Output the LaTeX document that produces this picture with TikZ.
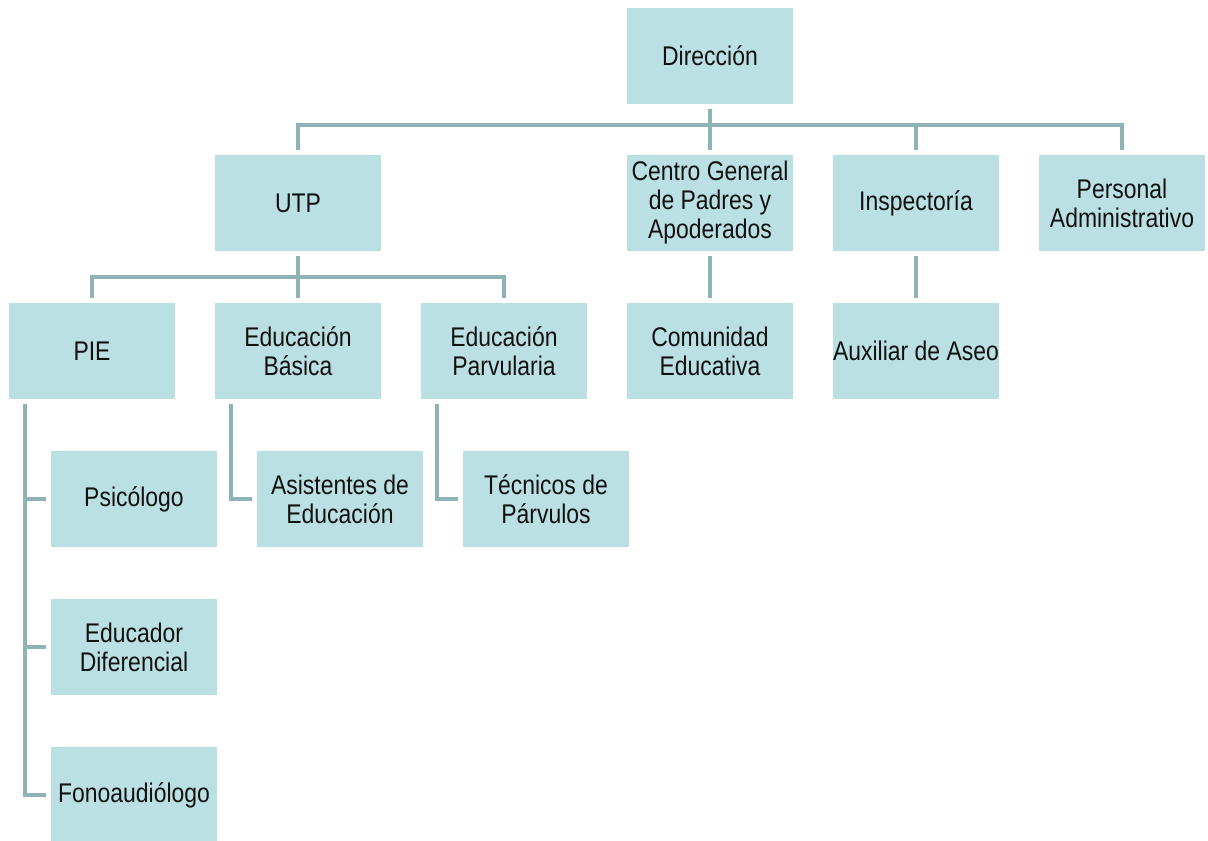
\documentclass[tikz,border=0pt]{standalone}
\usepackage{fontspec}
\setmainfont[FakeStretch=0.85]{Liberation Sans}
\definecolor{boxfill}{HTML}{BBE0E3}
\definecolor{linec}{HTML}{8DB3B6}
\definecolor{txt}{HTML}{111111}
\begin{document}
\begin{tikzpicture}[x=1pt,y=-1pt,
  ob/.style={rectangle,fill=boxfill,draw=none,minimum width=166pt,minimum height=96pt,
    align=center,text=txt,font=\fontsize{27}{29}\selectfont,inner sep=0pt},
  conn/.style={draw=linec,line width=3.5pt,line join=miter}]
\useasboundingbox (0,0) rectangle (1208,841);
\begin{scope}
\clip (0,0) rectangle (1208,841);
\node[ob] (dir) at (710,56) {Dirección};
\node[ob] (utp) at (298,203) {UTP};
\node[ob] (cgpa) at (710,203) {Centro General\\de Padres y\\Apoderados};
\node[ob] (insp) at (916,203) {Inspectoría};
\node[ob] (pers) at (1122,203) {Personal\\Administrativo};
\node[ob] (pie) at (92,351) {PIE};
\node[ob] (eb) at (298,351) {Educación\\Básica};
\node[ob] (ep) at (504,351) {Educación\\Parvularia};
\node[ob] (com) at (710,351) {Comunidad\\Educativa};
\node[ob] (aux) at (916,351) {Auxiliar de Aseo};
\node[ob] (psic) at (134,499) {Psicólogo};
\node[ob] (asis) at (340,499) {Asistentes de\\Educación};
\node[ob] (tec) at (546,499) {Técnicos de\\Párvulos};
\node[ob] (edif) at (134,647) {Educador\\Diferencial};
\node[ob] (fono) at (134,795) {Fonoaudiólogo};
\end{scope}
% level 1 bus
\coordinate (b1) at (710,125);
\draw[conn] ([yshift=-5pt]dir.south) -- (b1);
\draw[conn] ([yshift=5pt]utp.north) |- (b1) -| ([yshift=5pt]pers.north);
\draw[conn] ([yshift=5pt]cgpa.north) -- (cgpa.north |- b1);
\draw[conn] ([yshift=5pt]insp.north) -- (insp.north |- b1);
% UTP bus
\coordinate (b2) at (298,277);
\draw[conn] ([yshift=-5pt]utp.south) -- (b2);
\draw[conn] ([yshift=5pt]pie.north) |- (b2) -| ([yshift=5pt]ep.north);
\draw[conn] ([yshift=5pt]eb.north) -- (eb.north |- b2);
% single links
\draw[conn] ([yshift=-5pt]cgpa.south) -- ([yshift=5pt]com.north);
\draw[conn] ([yshift=-5pt]insp.south) -- ([yshift=5pt]aux.north);
% PIE side bar
\coordinate (pv) at ([xshift=16pt,yshift=-5pt]pie.south west);
\draw[conn] (pv) |- ([xshift=-5pt]fono.west);
\draw[conn] (pv |- psic.west) -- ([xshift=-5pt]psic.west);
\draw[conn] (pv |- edif.west) -- ([xshift=-5pt]edif.west);
% Educación Básica
\coordinate (ebv) at ([xshift=16pt,yshift=-5pt]eb.south west);
\draw[conn] (ebv) |- ([xshift=-5pt]asis.west);
% Educación Parvularia
\coordinate (epv) at ([xshift=16pt,yshift=-5pt]ep.south west);
\draw[conn] (epv) |- ([xshift=-5pt]tec.west);
\end{tikzpicture}
\end{document}
